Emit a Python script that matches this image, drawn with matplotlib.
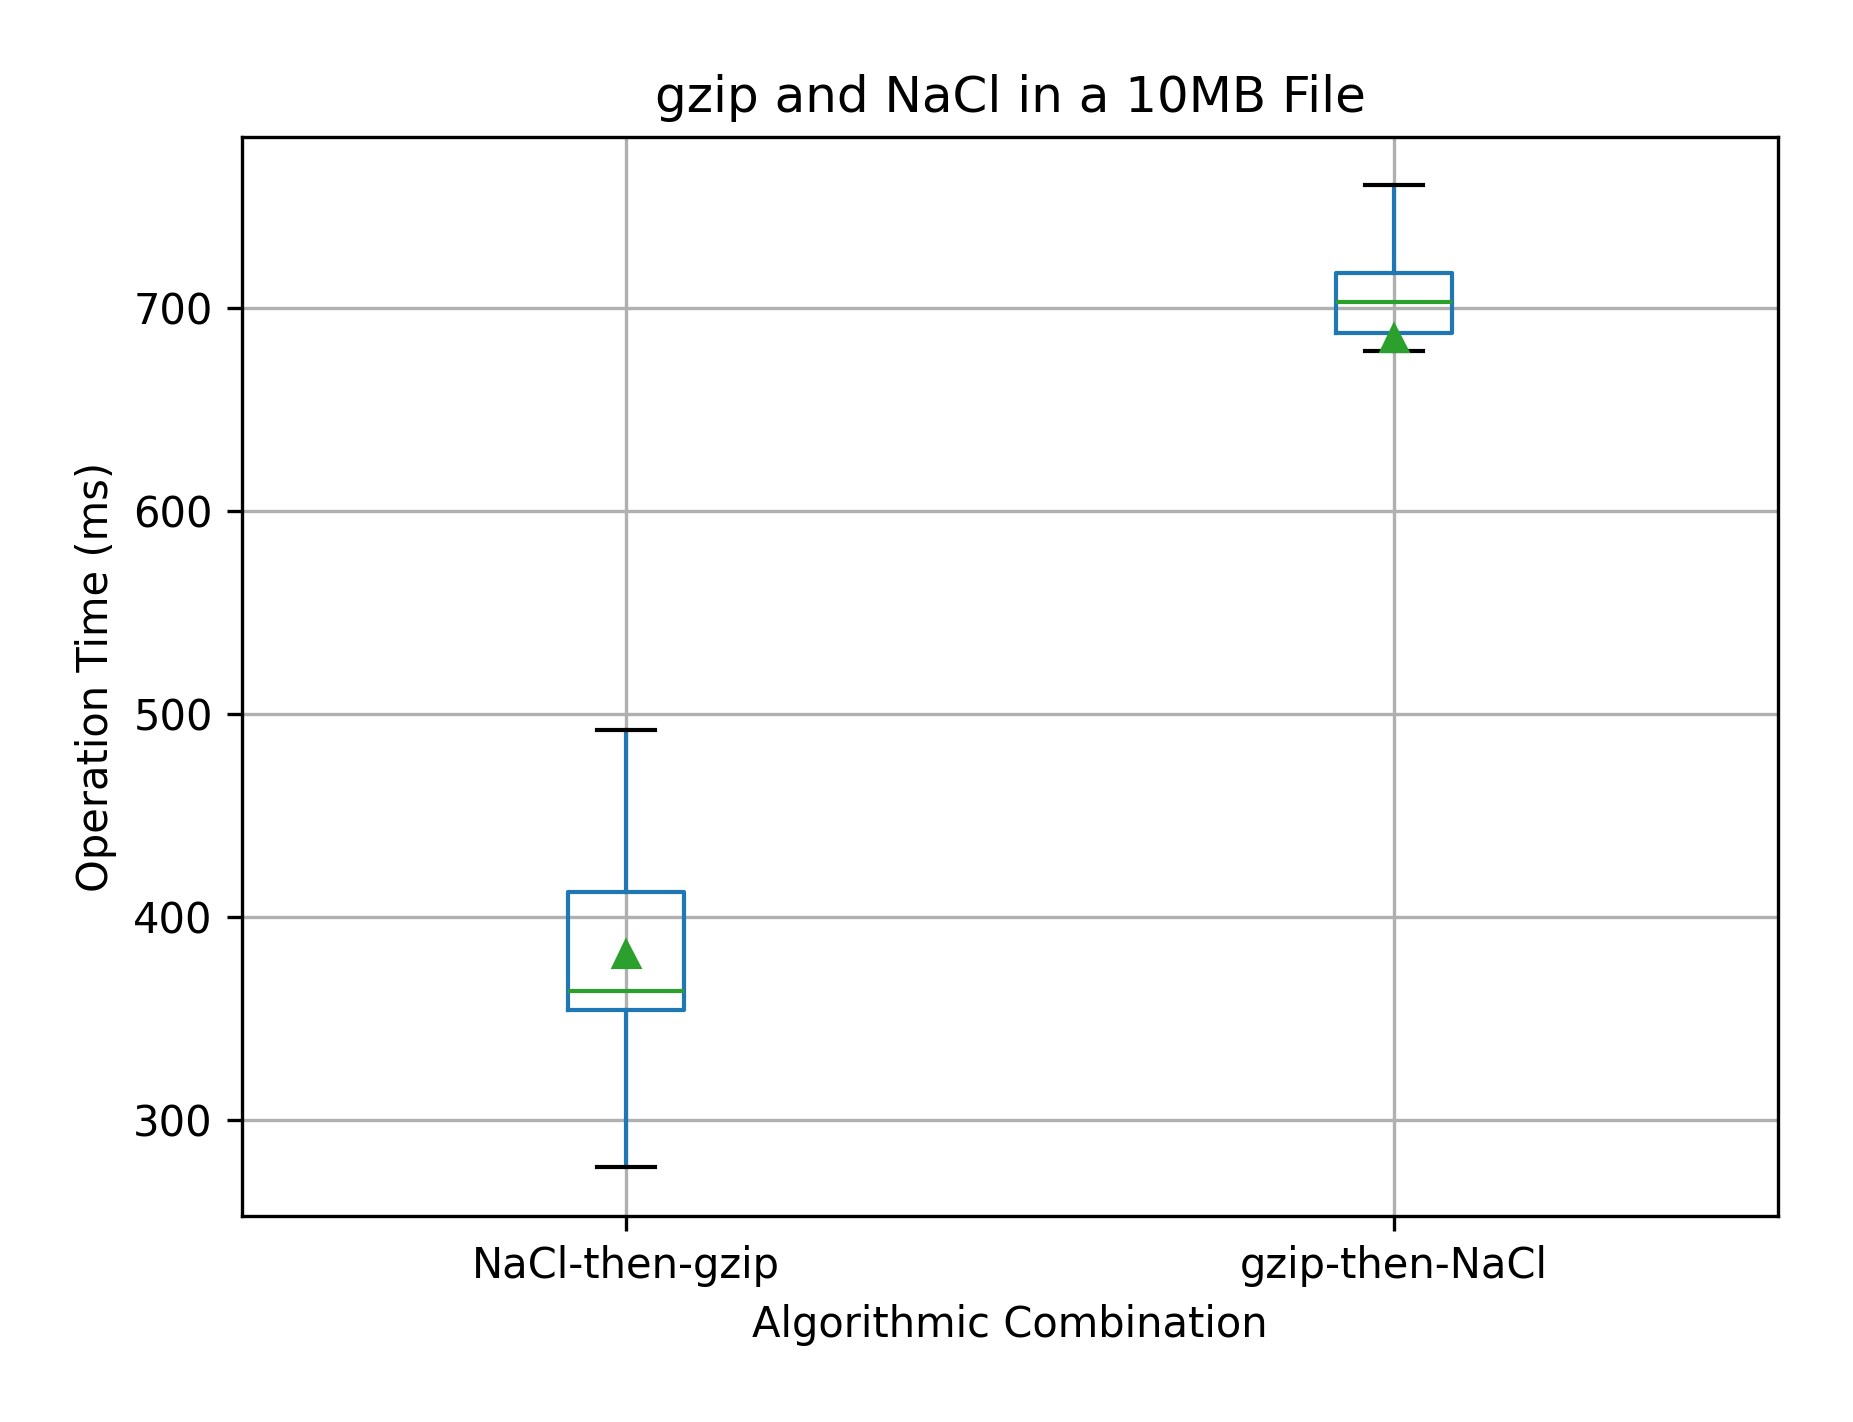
import matplotlib
matplotlib.use("Agg")
import matplotlib.pyplot as plt

labels = ["NaCl-then-gzip", "gzip-then-NaCl"]
whislo = [276.7, 679.0]
q1 = [354.2, 687.8]
med = [363.5, 702.9]
q3 = [412.4, 717.5]
whishi = [492.1, 760.6]
means = [382.0, 685.5]

stats = []
for i in range(len(labels)):
    stats.append({"label": labels[i], "whislo": whislo[i], "q1": q1[i],
                  "med": med[i], "q3": q3[i], "whishi": whishi[i],
                  "mean": means[i], "fliers": []})

fig = plt.figure(figsize=(1853 / 300, 1422 / 300), dpi=300)
ax = fig.add_axes([0.1306, 0.1449, 0.9595 - 0.1306, 0.9037 - 0.1449])

ax.bxp(stats, showmeans=True, showfliers=False,
       boxprops=dict(color="C0"), whiskerprops=dict(color="C0"),
       capprops=dict(color="black"), medianprops=dict(color="C2"),
       meanprops=dict(marker="^", markerfacecolor="C2", markeredgecolor="C2"))
ax.grid(True)
ax.set_axisbelow(True)
ax.set_ylim(252.8, 784.4)
ax.set_title("gzip and NaCl in a 10MB File")
ax.set_xlabel("Algorithmic Combination")
ax.set_ylabel("Operation Time (ms)")

fig.savefig("out.png", dpi=300)
